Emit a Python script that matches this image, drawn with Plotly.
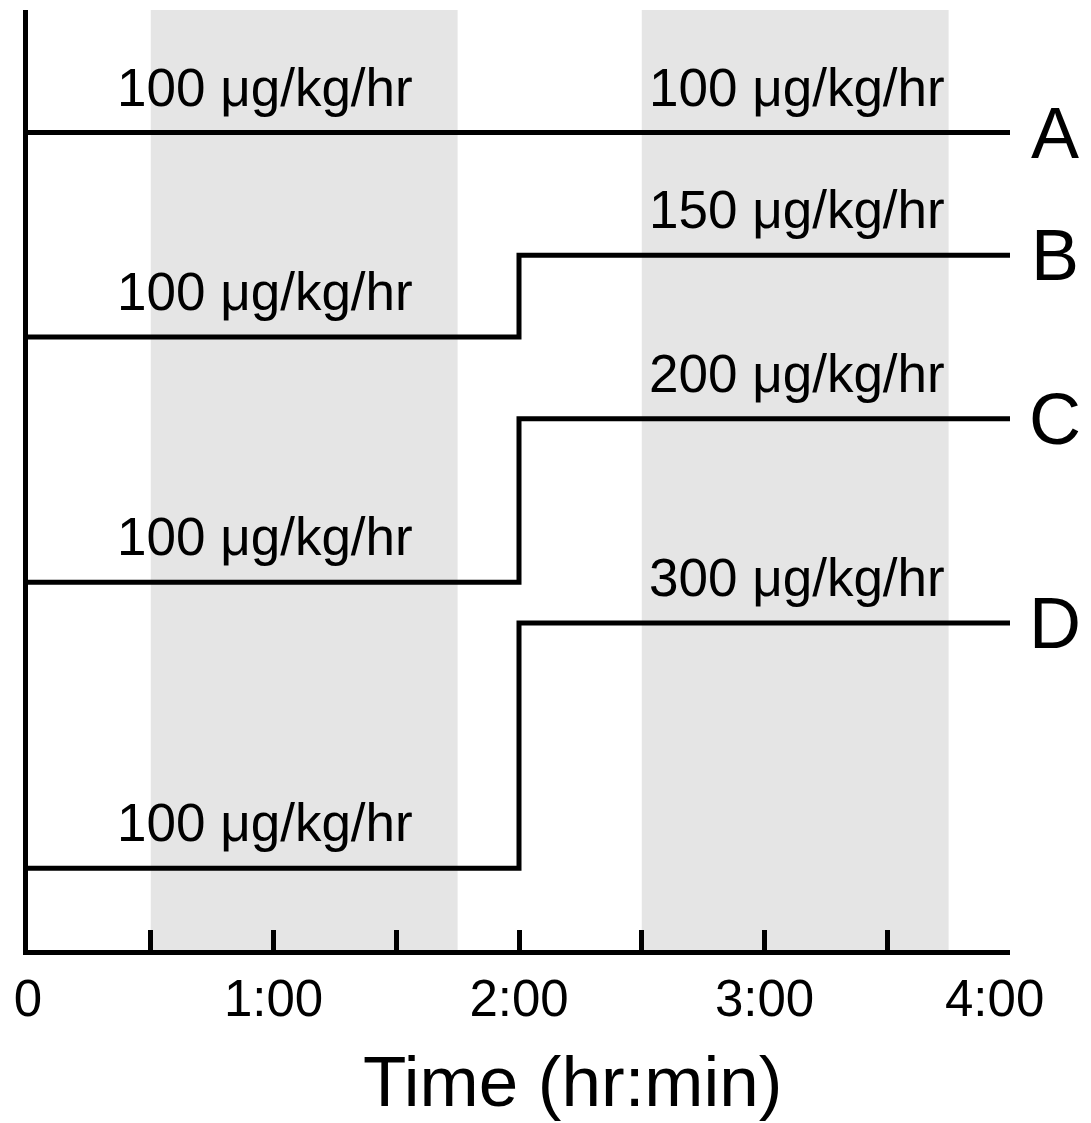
import plotly.graph_objects as go

# ---- data ----
protocols = ["A", "B", "C", "D"]
step_times_min = [0, 120, 240]          # start, dose change, end (minutes)
initial_dose = [100, 100, 100, 100]     # µg/kg/hr
later_dose = [100, 150, 200, 300]       # µg/kg/hr
level_low = [10, 7.5, 4.5, 1]           # schematic vertical level before 2:00
level_high = [10, 8.5, 6.5, 4]          # schematic vertical level after 2:00
shaded_windows = [(30, 105), (150, 225)]  # minutes
tick_vals = [0, 30, 60, 90, 120, 150, 180, 210, 240]
tick_text = ["0", "", "1:00", "", "2:00", "", "3:00", "", ""]
last_tick_label = "4:00"

FONT = "Arial, Liberation Sans, sans-serif"

fig = go.Figure()

for name, lo, hi in zip(protocols, level_low, level_high):
    fig.add_trace(go.Scatter(
        x=step_times_min, y=[lo, hi, hi], mode="lines",
        line=dict(color="black", width=5, shape="hv"),
        showlegend=False, hoverinfo="skip", name=name))

for x0, x1 in shaded_windows:
    fig.add_shape(type="rect", xref="x", yref="paper", x0=x0, x1=x1, y0=0, y1=1,
                  fillcolor="#e5e5e5", line=dict(width=0), layer="below")

for name, d0, d1, lo, hi in zip(protocols, initial_dose, later_dose, level_low, level_high):
    fig.add_annotation(x=58, y=lo, xref="x", yref="y", text=f"{d0} μg/kg/hr",
                       showarrow=False, yanchor="bottom", yshift=14,
                       font=dict(family=FONT, size=53, color="black"))
    fig.add_annotation(x=188, y=hi, xref="x", yref="y", text=f"{d1} μg/kg/hr",
                       showarrow=False, yanchor="bottom", yshift=14,
                       font=dict(family=FONT, size=53, color="black"))
    fig.add_annotation(x=1.046, y=hi, xref="paper", yref="y", text=name,
                       showarrow=False, yanchor="middle", xanchor="center",
                       font=dict(family=FONT, size=72, color="black"))

fig.add_annotation(x=240, y=0, xref="x", yref="paper", text=last_tick_label,
                   showarrow=False, yanchor="top", xanchor="center", xshift=-16, yshift=-18,
                   font=dict(family=FONT, size=51, color="black"))

fig.add_annotation(x=0.554, y=-0.14, xref="paper", yref="paper", text="Time (hr:min)",
                   showarrow=False, yanchor="middle", xanchor="center",
                   font=dict(family=FONT, size=71, color="black"))

fig.update_layout(
    width=1091, height=1123,
    margin=dict(l=28, r=81, t=10, b=173),
    paper_bgcolor="white", plot_bgcolor="white",
    xaxis=dict(range=[0, 240], tickvals=tick_vals, ticktext=tick_text,
               ticks="inside", ticklen=20, tickwidth=5, tickcolor="black",
               showline=True, linewidth=5, linecolor="black",
               showgrid=False, zeroline=False,
               tickfont=dict(family=FONT, size=51, color="black")),
    yaxis=dict(range=[0, 11.5], showline=True, linewidth=5, linecolor="black",
               showticklabels=False, ticks="", showgrid=False, zeroline=False),
)

fig.write_html("out.html")
